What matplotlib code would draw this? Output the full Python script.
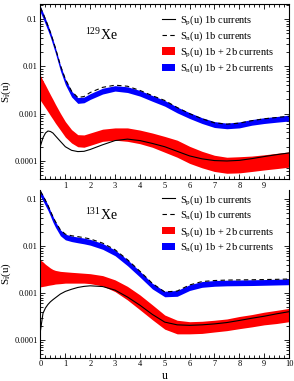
import matplotlib
matplotlib.use("Agg")
import matplotlib.pyplot as plt
from matplotlib.lines import Line2D
from matplotlib.patches import Patch
from matplotlib.ticker import MultipleLocator, LogLocator, FixedLocator, FixedFormatter, NullFormatter

plt.rcParams['font.family'] = ['Liberation Serif', 'DejaVu Serif']
plt.rcParams['mathtext.fontset'] = 'custom'
plt.rcParams['mathtext.rm'] = 'Liberation Serif'
plt.rcParams['mathtext.it'] = 'Liberation Serif:italic'

u = [0, 0.1, 0.2, 0.3, 0.4, 0.5, 0.6, 0.8, 1.0, 1.25, 1.5, 1.75, 2.0, 2.5, 3.0,
     3.5, 4.0, 4.5, 5.0, 5.5, 6.0, 6.5, 7.0, 7.5, 8.0, 8.5, 9.0, 9.5, 10.0]

# ---- 129Xe ----
xe129_sp_1b = [0.00021, 0.00031, 0.00039, 0.00043, 0.00042, 0.00039, 0.00034, 0.00026, 0.0002,
               0.000168, 0.000158, 0.00016, 0.000175, 0.00022, 0.00027, 0.00029, 0.00027,
               0.000235, 0.0002, 0.00016, 0.000128, 0.000111, 0.000102, 0.0001, 0.000103,
               0.000112, 0.000124, 0.000136, 0.000148]
xe129_sn_1b = [0.175, 0.133, 0.099, 0.072, 0.052, 0.036, 0.0245, 0.0105, 0.0054, 0.0030, 0.0022,
               0.0023, 0.0028, 0.0036, 0.0040, 0.0038, 0.0031, 0.0024, 0.0019, 0.00135, 0.001,
               0.00078, 0.00064, 0.0006, 0.00063, 0.00071, 0.00078, 0.00083, 0.00088]
xe129_sp_lo = [0.0019, 0.00158, 0.00132, 0.0011, 0.00091, 0.00076, 0.00063, 0.00045, 0.00032,
               0.00024, 0.0002, 0.000195, 0.000214, 0.00026, 0.000275, 0.00026, 0.000232,
               0.000195, 0.000153, 0.00012, 0.000089, 0.0000716, 0.00006, 0.000055, 0.000056,
               0.00006, 0.0000646, 0.000069, 0.000074]
xe129_sp_hi = [0.0063, 0.0050, 0.0040, 0.00316, 0.0025, 0.0020, 0.00158, 0.00102, 0.00068,
               0.00046, 0.00036, 0.000355, 0.00039, 0.00047, 0.0005, 0.0005, 0.00045, 0.00039,
               0.00033, 0.000275, 0.000204, 0.00016, 0.000132, 0.00012, 0.000123, 0.000127,
               0.000135, 0.000145, 0.000155]
xe129_sn_lo = [0.137, 0.104, 0.077, 0.057, 0.041, 0.028, 0.019, 0.0081, 0.0041, 0.00226, 0.00165,
               0.0017, 0.0020, 0.0026, 0.0030, 0.0028, 0.00235, 0.00183, 0.00144, 0.00104,
               0.00079, 0.00062, 0.00051, 0.00048, 0.0005, 0.00057, 0.00062, 0.00066, 0.0007]
xe129_sn_hi = [0.182, 0.138, 0.102, 0.075, 0.054, 0.037, 0.025, 0.0107, 0.0054, 0.003, 0.00219,
               0.00224, 0.00265, 0.00345, 0.0039, 0.0037, 0.0031, 0.00242, 0.0019, 0.00138,
               0.00105, 0.00082, 0.00068, 0.00063, 0.00067, 0.00075, 0.00082, 0.00087, 0.00093]

# ---- 131Xe ----
xe131_sp_1b = [0.00016, 0.00037, 0.00048, 0.00057, 0.00065, 0.00072, 0.00079, 0.00095, 0.00108,
               0.0012, 0.00131, 0.00138, 0.00142, 0.00137, 0.00115, 0.00082, 0.00055, 0.00035,
               0.00024, 0.00021, 0.000205, 0.00021, 0.00022, 0.000235, 0.00026, 0.00029,
               0.00032, 0.00036, 0.0004]
xe131_sn_1b = [0.145, 0.118, 0.093, 0.073, 0.055, 0.042, 0.033, 0.022, 0.0178, 0.0165, 0.0158,
               0.015, 0.0141, 0.0115, 0.0083, 0.0051, 0.0029, 0.0016, 0.00105, 0.0011, 0.00148,
               0.00175, 0.00184, 0.00188, 0.0019, 0.00191, 0.00193, 0.00195, 0.00198]
xe131_sp_lo = [0.00135, 0.00138, 0.00141, 0.00145, 0.00148, 0.00151, 0.00155, 0.00158, 0.00162,
               0.00162, 0.00162, 0.00162, 0.00158, 0.00141, 0.00107, 0.00071, 0.00044, 0.00027,
               0.00017, 0.000135, 0.000135, 0.000138, 0.000148, 0.000158, 0.000174, 0.00019,
               0.00021, 0.000224, 0.000245]
xe131_sp_hi = [0.0050, 0.00457, 0.00407, 0.00372, 0.00339, 0.00316, 0.00302, 0.00288, 0.00282,
               0.00275, 0.00269, 0.00263, 0.00257, 0.00234, 0.0019, 0.00138, 0.00091, 0.00056,
               0.00034, 0.000263, 0.000245, 0.00025, 0.000263, 0.00028, 0.000316, 0.000347,
               0.00039, 0.000427, 0.00047]
xe131_sn_lo = [0.113, 0.091, 0.072, 0.057, 0.043, 0.032, 0.025, 0.0165, 0.0135, 0.0124, 0.0117,
               0.0111, 0.0104, 0.0085, 0.0062, 0.0038, 0.00218, 0.00122, 0.00083, 0.00085,
               0.00113, 0.00132, 0.00139, 0.00142, 0.00143, 0.00144, 0.00146, 0.00148, 0.0015]
xe131_sn_hi = [0.15, 0.121, 0.095, 0.075, 0.056, 0.043, 0.033, 0.022, 0.0178, 0.0163, 0.0155,
               0.0147, 0.0138, 0.0113, 0.0082, 0.0051, 0.0029, 0.00161, 0.00109, 0.00113, 0.0015,
               0.00175, 0.00184, 0.00187, 0.00189, 0.00191, 0.00193, 0.00196, 0.00199]

legend_labels = ["S$_{\\rm p}$(u) 1b currents", "S$_{\\rm n}$(u) 1b currents",
                 "S$_{\\rm p}$(u) 1b + 2b currents", "S$_{\\rm n}$(u) 1b + 2b currents"]
isotopes = ["$^{129}$Xe", "$^{131}$Xe"]
ytick_vals = [0.0001, 0.001, 0.01, 0.1]
ytick_labels = ["0.0001", "0.001", "0.01", "0.1"]

fig = plt.figure(figsize=(2.94, 3.81), dpi=100)
W, H = 294, 381
ax1 = fig.add_axes([40.5 / W, 1 - 179.3 / H, 248.5 / W, 175.8 / H])
ax2 = fig.add_axes([40.5 / W, 1 - 357.7 / H, 248.5 / W, 167.7 / H])

panels = [
    (ax1, xe129_sp_1b, xe129_sn_1b, xe129_sp_lo, xe129_sp_hi, xe129_sn_lo, xe129_sn_hi, (4.1e-5, 0.213)),
    (ax2, xe131_sp_1b, xe131_sn_1b, xe131_sp_lo, xe131_sp_hi, xe131_sn_lo, xe131_sn_hi, (4.2e-5, 0.155)),
]

for i, (ax, sp1, sn1, splo, sphi, snlo, snhi, ylim) in enumerate(panels):
    ax.set_yscale('log')
    ax.fill_between(u, splo, sphi, color='#ff0000', lw=0, zorder=2)
    ax.fill_between(u, snlo, snhi, color='#0000ff', lw=0, zorder=2)
    ax.plot(u, sp1, color='black', lw=0.8, zorder=3)
    ax.plot(u, sn1, color='black', lw=0.8, ls=(0, (4, 3)), zorder=3)
    ax.set_xlim(0, 10)
    ax.set_ylim(*ylim)
    ax.yaxis.set_major_locator(FixedLocator(ytick_vals))
    ax.yaxis.set_major_formatter(FixedFormatter(ytick_labels))
    ax.yaxis.set_minor_locator(LogLocator(base=10, subs=range(2, 10), numticks=20))
    ax.yaxis.set_minor_formatter(NullFormatter())
    ax.xaxis.set_major_locator(MultipleLocator(1))
    ax.xaxis.set_minor_locator(MultipleLocator(0.2))
    ax.tick_params(which='both', direction='in', labelsize=6, pad=2,
                   top=(i == 0), right=True, width=0.6)
    ax.tick_params(which='major', length=3.5)
    ax.tick_params(which='minor', length=2)
    for s in ax.spines.values():
        s.set_linewidth(0.8)
    ax.set_ylabel("S$_{\\rm i}$(u)", fontsize=8, labelpad=2)
    ax.text(0.18, 0.82 if i == 0 else 0.85, isotopes[i], transform=ax.transAxes,
            fontsize=10, ha='left', va='center')
    handles = [Line2D([], [], color='black', lw=0.8),
               Line2D([], [], color='black', lw=0.8, ls=(0, (4, 3))),
               Patch(facecolor='#ff0000', edgecolor='none'),
               Patch(facecolor='#0000ff', edgecolor='none')]
    ax.legend(handles, legend_labels, loc='upper left',
              bbox_to_anchor=(0.49, 0.945 if i == 0 else 0.985),
              frameon=False, fontsize=7.5, handlelength=1.2, handletextpad=0.5,
              labelspacing=0.22, borderpad=0, borderaxespad=0)

ax1.set_xticks(range(0, 11))
ax1.set_xticklabels(["", "1", "2", "3", "4", "5", "6", "7", "8", "9", ""])
ax2.spines['top'].set_visible(False)
ax2.set_xlabel("u", fontsize=8.5, labelpad=1)
ax1.yaxis.set_label_coords(-0.112, 0.5)
ax2.yaxis.set_label_coords(-0.112, 0.5)

fig.savefig("out.png", dpi=100)
